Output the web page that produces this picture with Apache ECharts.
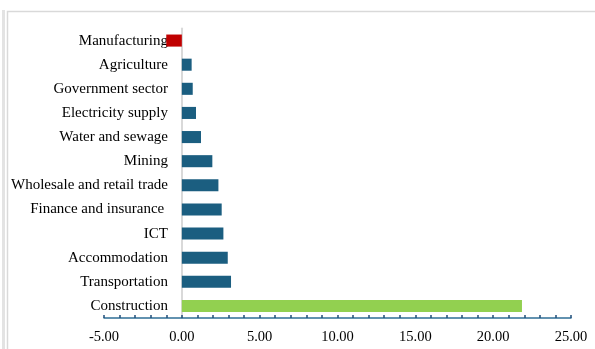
<!DOCTYPE html>
<html>
<head>
<meta charset="utf-8">
<script src="https://cdn.jsdelivr.net/npm/echarts@6/dist/echarts.min.js"></script>
<style>
html,body{margin:0;padding:0;background:#fff;}
#chart{width:595px;height:349px;}
</style>
</head>
<body>
<div id="chart"></div>
<script>
var categories = ["Manufacturing", "Agriculture", "Government sector", "Electricity supply", "Water and sewage", "Mining", "Wholesale and retail trade", "Finance and insurance ", "ICT", "Accommodation", "Transportation", "Construction"];
var values = [-1.0, 0.63, 0.70, 0.91, 1.23, 1.96, 2.35, 2.56, 2.67, 2.95, 3.16, 21.85];
var barColors = ["#c00000", "#1b5e80", "#1b5e80", "#1b5e80", "#1b5e80", "#1b5e80", "#1b5e80", "#1b5e80", "#1b5e80", "#1b5e80", "#1b5e80", "#92d050"];
var xTicks = { min: -5, max: 25, interval: 5 };

var chart = echarts.init(document.getElementById('chart'), null, { renderer: 'canvas' });
var font = '"Liberation Serif", "Times New Roman", serif';
chart.setOption({
  animation: false,
  backgroundColor: '#ffffff',
  graphic: [
    { type: 'rect', shape: { x: 2, y: 10, width: 3, height: 345 }, style: { fill: '#e3e3e3' }, silent: true },
    { type: 'rect', shape: { x: 7.5, y: 11.5, width: 700, height: 500 }, style: { fill: 'none', stroke: '#d9d9d9', lineWidth: 1.5 }, silent: true }
  ],
  grid: { left: 104, right: 24, top: 28.5, bottom: 31, containLabel: false, outerBoundsMode: 'none' },
  xAxis: {
    type: 'value',
    min: xTicks.min, max: xTicks.max, interval: xTicks.interval,
    axisLine: { show: true, onZero: false, lineStyle: { color: '#2f6f96', width: 1.5 } },
    axisTick: { show: true, inside: true, length: 3, lineStyle: { color: '#1f4e79', width: 1.5 } },
    minorTick: { show: true, splitNumber: 5, length: 3, lineStyle: { color: '#1f4e79', width: 1.5 } },
    splitLine: { show: false },
    axisLabel: {
      fontFamily: font, fontSize: 14.5, color: '#000', margin: 12,
      formatter: function (v) { return v.toFixed(2); }
    }
  },
  yAxis: {
    type: 'category',
    inverse: true,
    data: categories,
    axisLine: { show: true, onZero: true, lineStyle: { color: '#d9d9d9', width: 2 } },
    axisTick: { show: false },
    axisLabel: { fontFamily: font, fontSize: 15, color: '#000', margin: -64 }
  },
  series: [{
    type: 'bar',
    barWidth: '50%',
    data: values.map(function (v, i) {
      return { value: v, itemStyle: { color: barColors[i] } };
    })
  }]
});
</script>
</body>
</html>
